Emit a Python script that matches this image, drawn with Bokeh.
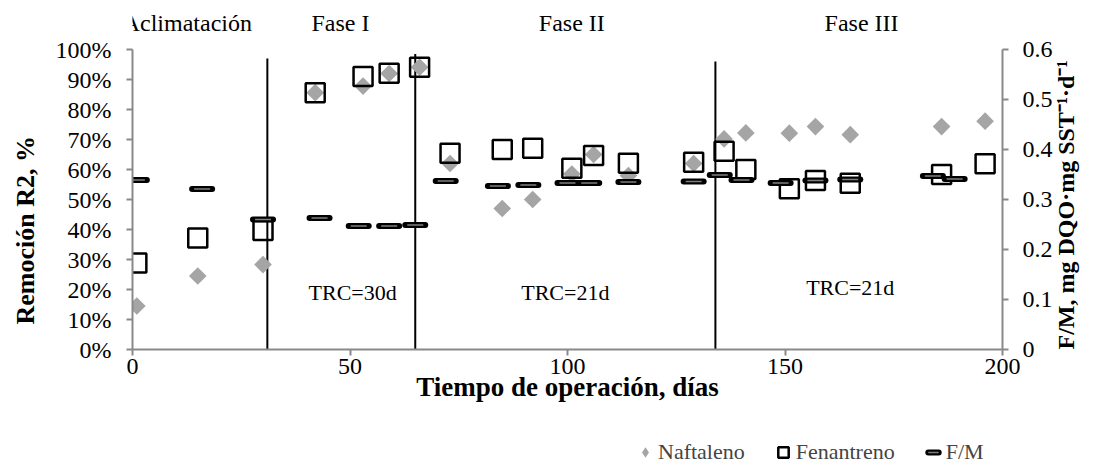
import math
from bokeh.plotting import figure
from bokeh.layouts import column
from bokeh.models import (Range1d, LinearAxis, Legend, LegendItem, Label,
                          FixedTicker, PrintfTickFormatter, CustomJSTickFormatter)
from bokeh.embed import file_html
from bokeh.resources import INLINE

# ---------------- data ----------------
naf_x = [1, 15, 30, 42, 53, 59, 66, 73, 85, 92, 101, 106, 114, 129, 136, 141, 151, 157, 165, 186, 196]
naf_y = [14.5, 24.5, 28.3, 85.6, 87.8, 92.0, 94.1, 62.0, 47.0, 50.0, 58.5, 65.0, 58.0, 62.0, 70.2, 72.2, 72.1, 74.3, 71.6, 74.3, 76.1]

fen_x = [1, 15, 30, 42, 53, 59, 66, 73, 85, 92, 101, 106, 114, 129, 136, 141, 151, 157, 165, 186, 196]
fen_y = [28.8, 37.2, 39.7, 85.6, 91.0, 92.1, 94.1, 65.4, 66.7, 67.1, 60.4, 64.7, 62.1, 62.4, 66.1, 60.0, 53.6, 56.3, 55.4, 58.3, 61.9]

fm_x = [1, 16, 30, 43, 52, 59, 65, 72, 84, 91, 100, 105, 114, 129, 135, 140, 149, 157, 165, 184, 189]
fm_y = [0.339, 0.321, 0.260, 0.263, 0.247, 0.247, 0.249, 0.337, 0.327, 0.329, 0.333, 0.333, 0.335, 0.336, 0.349, 0.339, 0.333, 0.338, 0.340, 0.347, 0.341]

phase_bounds = [31, 65, 134]
phase_names = ["Aclimatación", "Fase I", "Fase II", "Fase III"]
trc_labels = ["TRC=30d", "TRC=21d", "TRC=21d"]
series_names = ["Naftaleno", "Fenantreno", "F/M"]

left_ticks = [0, 10, 20, 30, 40, 50, 60, 70, 80, 90, 100]
right_ticks = [0, 0.1, 0.2, 0.3, 0.4, 0.5, 0.6]
x_ticks = [0, 50, 100, 150, 200]

# ---------------- styling ----------------
FONT = "Liberation Serif"
AXIS_GRAY = "#898989"
NAF_GRAY = "#A5A5A5"
Y_TOP = 349 / 3.0          # frame extends above 100 % to hold the phase names
FM_TOP = 0.6 * Y_TOP / 100
W = 1095

p = figure(width=W, height=420, x_range=Range1d(0, 200), y_range=Range1d(0, Y_TOP),
           output_backend="svg", toolbar_location=None,
           min_border_left=132, min_border_right=93, min_border_top=0, min_border_bottom=71)
p.extra_y_ranges = {"fm": Range1d(0, FM_TOP)}
p.outline_line_color = None
p.xgrid.visible = False
p.ygrid.visible = False

def style_axis(ax):
    ax.axis_line_color = AXIS_GRAY
    ax.axis_line_width = 2
    ax.major_tick_line_color = AXIS_GRAY
    ax.major_tick_line_width = 2
    ax.major_tick_out = 6
    ax.major_tick_in = 0
    ax.minor_tick_line_color = None
    ax.major_label_text_font = FONT
    ax.major_label_text_font_size = "24px"
    ax.major_label_text_color = "black"
    ax.axis_label_text_font = FONT
    ax.axis_label_text_font_style = "bold"
    ax.axis_label_text_font_size = "24px"
    ax.axis_label_text_color = "black"

# x axis
xa = p.xaxis[0]
style_axis(xa)
xa.ticker = FixedTicker(ticks=x_ticks)
xa.axis_label = "Tiempo de operación, días"
xa.axis_label_text_font_size = "27px"
xa.major_label_standoff = 3
xa.axis_label_standoff = -5

# left axis
ya = p.yaxis[0]
style_axis(ya)
ya.bounds = (0, 100)
ya.ticker = FixedTicker(ticks=left_ticks)
ya.formatter = PrintfTickFormatter(format="%d%%")
ya.major_label_standoff = 15
ya.axis_label = "Remoción  R2, %" + "\u00a0" * 16
ya.axis_label_text_font_size = "26px"
ya.axis_label_standoff = 13

# right axis
ra = LinearAxis(y_range_name="fm")
style_axis(ra)
ra.bounds = (0, 0.6)
ra.ticker = FixedTicker(ticks=right_ticks)
ra.formatter = CustomJSTickFormatter(code="return tick == 0 ? '0' : tick.toFixed(1);")
ra.major_label_standoff = 14
ra.axis_label = "F/M, mg DQO·mg SST⁻¹·d⁻¹"
ra.axis_label_standoff = 10
ra.axis_label_orientation = math.pi / 2
ra.axis_label_align = "start"
p.add_layout(ra, "right")

# phase boundary lines
p.segment(x0=phase_bounds, y0=[0, 0, 0], x1=phase_bounds, y1=[97, 98.5, 96],
          line_color="black", line_width=2)

# series styles
naf_style = dict(marker="square", angle=math.pi / 4, size=12.5, fill_color=NAF_GRAY, line_color=None)
fen_style = dict(marker="square", size=19, fill_color=None, line_color="black", line_width=2.5)
fm1_style = dict(marker="dash", size=20, line_color="black", line_width=6, line_cap="round")
fm2_style = dict(marker="dash", size=16, line_color="#7f7f7f", line_width=1.5)

p.scatter(naf_x, naf_y, **naf_style)
p.scatter(fen_x, fen_y, **fen_style)
p.scatter(fm_x, fm_y, y_range_name="fm", **fm1_style)
p.scatter(fm_x, fm_y, y_range_name="fm", **fm2_style)

# phase names above the data area
for name, xc in zip(phase_names, [12.6, 47.8, 101, 167.6]):
    p.add_layout(Label(x=xc, y=108.7, text=name, text_font=FONT, text_font_size="24px",
                       text_align="center", text_baseline="middle", text_color="black"))

# TRC labels
for t, xc, yc in zip(trc_labels, [50.6, 99.5, 165], [19, 19, 20.7]):
    p.add_layout(Label(x=xc, y=yc, text=t, text_font=FONT, text_font_size="22px",
                       text_align="center", text_baseline="middle", text_color="black"))

# ---------------- legend strip below the chart ----------------
lg = figure(width=W, height=46, x_range=Range1d(0, 200), y_range=Range1d(0, 100),
            output_backend="svg", toolbar_location=None,
            x_axis_location=None, y_axis_location=None,
            min_border_left=0, min_border_right=0, min_border_top=0, min_border_bottom=0)
lg.outline_line_color = None
lg.xgrid.visible = False
lg.ygrid.visible = False
naf_leg_style = dict(naf_style, marker="diamond", angle=0)
l_naf = lg.scatter(naf_x, naf_y, visible=False, **naf_leg_style)
l_fen = lg.scatter(fen_x, fen_y, visible=False, **fen_style)
l_fm1 = lg.scatter(fm_x, fm_y, visible=False, **fm1_style)
l_fm2 = lg.scatter(fm_x, fm_y, visible=False, **fm2_style)

legend = Legend(items=[LegendItem(label=series_names[0], renderers=[l_naf]),
                       LegendItem(label=series_names[1], renderers=[l_fen]),
                       LegendItem(label=series_names[2], renderers=[l_fm1, l_fm2])],
                orientation="horizontal", location=(500, -1),
                label_text_font=FONT, label_text_font_size="22px",
                glyph_width=26, glyph_height=30, label_standoff=0, spacing=25,
                padding=0, margin=0, border_line_color=None,
                background_fill_alpha=0, click_policy="none")
lg.add_layout(legend)

open("out.html", "w").write(file_html(column(p, lg, spacing=0), INLINE))
